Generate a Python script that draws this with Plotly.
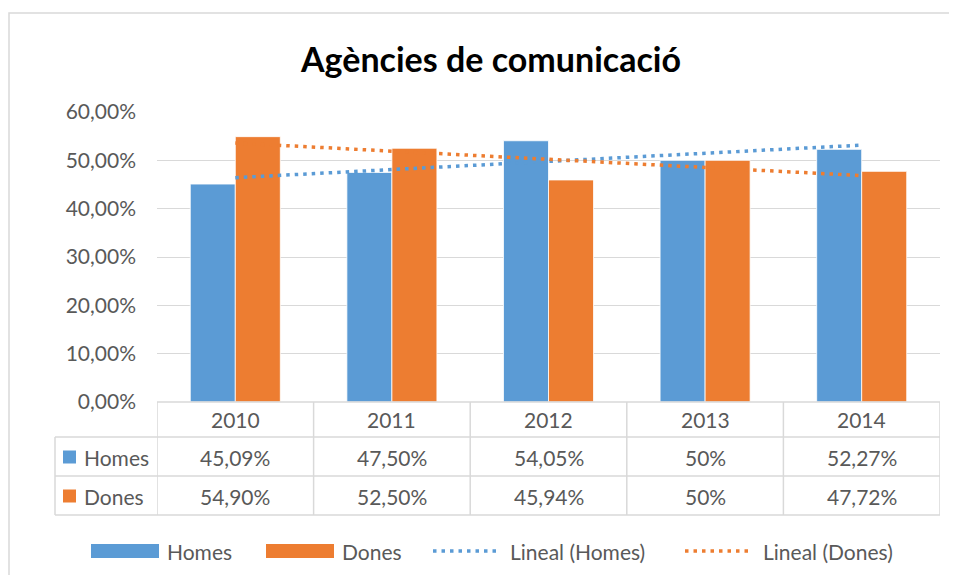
import numpy as np
import plotly.graph_objects as go

# ---- data ----
years = ["2010", "2011", "2012", "2013", "2014"]
homes = [0.4509, 0.4750, 0.5405, 0.50, 0.5227]
dones = [0.5490, 0.5250, 0.4594, 0.50, 0.4772]
homes_txt = ["45,09%", "47,50%", "54,05%", "50%", "52,27%"]
dones_txt = ["54,90%", "52,50%", "45,94%", "50%", "47,72%"]
series_names = ["Homes", "Dones"]
trend_names = ["Lineal (Homes)", "Lineal (Dones)"]
title = "Agències de comunicació"

BLUE = "#5B9BD5"
ORANGE = "#ED7D31"
GRID = "#D9D9D9"
TXT = "#595959"
FONT = "Lato, 'Open Sans', sans-serif"
FS = 21
DOT = "3.5px,5px"

OFF = 8  # page body margin
W, H = 957 - 2 * OFF, 583 - 2 * OFF
def px(x):
    return (x - OFF) / W
def py(y):
    return 1 - (y - OFF) / H

xi = np.arange(len(years))

def trend(vals):
    k = np.arange(1, len(vals) + 1)
    m, b = np.polyfit(k, vals, 1)
    return m * k + b

fig = go.Figure()
fig.add_trace(go.Bar(x=xi, y=homes, name=series_names[0], marker=dict(color=BLUE, line=dict(color="white", width=0.8)), showlegend=False))
fig.add_trace(go.Bar(x=xi, y=dones, name=series_names[1], marker=dict(color=ORANGE, line=dict(color="white", width=0.8)), showlegend=False))
fig.add_trace(go.Scatter(x=xi, y=trend(homes), mode="lines", name=trend_names[0], line=dict(color=BLUE, dash=DOT, width=3.5), showlegend=False))
fig.add_trace(go.Scatter(x=xi, y=trend(dones), mode="lines", name=trend_names[1], line=dict(color=ORANGE, dash=DOT, width=3.5), showlegend=False))

shapes = []
annotations = []

def label(x, y, text, xref="paper", xanchor="center", size=FS, color=TXT):
    annotations.append(dict(x=x, y=py(y), xref=xref, yref="paper", text=text, showarrow=False,
                            xanchor=xanchor, yanchor="middle",
                            font=dict(size=size, color=color, family=FONT)))

# chart outer border
shapes.append(dict(type="rect", xref="paper", yref="paper", x0=px(9), x1=px(990), y0=py(620), y1=py(13),
                   line=dict(color=GRID, width=1.5), layer="below"))

# data table lines
row_y = [402, 437, 476, 515]
cell_bounds = [-0.5 + k for k in range(len(years) + 1)]
shapes.append(dict(type="line", xref="x", yref="paper", x0=-0.5, x1=4.5, y0=py(402), y1=py(402), line=dict(color=GRID, width=1.5)))
for yy in row_y[1:]:
    shapes.append(dict(type="line", xref="paper", yref="paper", x0=px(55), x1=px(940), y0=py(yy), y1=py(yy), line=dict(color=GRID, width=1.5)))
for xb in cell_bounds:
    shapes.append(dict(type="line", xref="x", yref="paper", x0=xb, x1=xb, y0=py(402), y1=py(515), line=dict(color=GRID, width=1.5)))
shapes.append(dict(type="line", xref="paper", yref="paper", x0=px(55), x1=px(55), y0=py(437), y1=py(515), line=dict(color=GRID, width=1.5)))

# table text
for i, yr in enumerate(years):
    label(i, 419, yr, xref="x")
    label(i, 457, homes_txt[i], xref="x")
    label(i, 496, dones_txt[i], xref="x")
# table row keys
for name, col, yc in [(series_names[0], BLUE, 457), (series_names[1], ORANGE, 496)]:
    shapes.append(dict(type="rect", xref="paper", yref="paper", x0=px(63), x1=px(76), y0=py(yc + 6.5), y1=py(yc - 6.5),
                       fillcolor=col, line=dict(width=0)))
    label(px(82), yc, name, xanchor="left")

# custom legend
leg_y = 551
for name, col, x0, x1, tx in [(series_names[0], BLUE, 91, 159, 165), (series_names[1], ORANGE, 266, 334, 340)]:
    shapes.append(dict(type="rect", xref="paper", yref="paper", x0=px(x0), x1=px(x1), y0=py(leg_y + 7), y1=py(leg_y - 7),
                       fillcolor=col, line=dict(width=0)))
    label(px(tx), leg_y, name, xanchor="left")
for name, col, x0, x1, tx in [(trend_names[0], BLUE, 433, 497, 508), (trend_names[1], ORANGE, 685, 749, 761)]:
    shapes.append(dict(type="line", xref="paper", yref="paper", x0=px(x0), x1=px(x1), y0=py(leg_y), y1=py(leg_y),
                       line=dict(color=col, width=3.5, dash=DOT)))
    label(px(tx), leg_y, name, xanchor="left")

# title
label(px(490), 58, "<b>" + title + "</b>", size=34, color="black")

fig.update_layout(
    width=W, height=H,
    margin=dict(l=0, r=0, t=0, b=0, autoexpand=False),
    paper_bgcolor="white", plot_bgcolor="white",
    barmode="group", bargap=0.425, bargroupgap=0,
    separators=",.",
    xaxis=dict(domain=[px(157), px(940)], range=[-0.5, 4.5], showticklabels=False, showgrid=False, zeroline=False,
               fixedrange=True, automargin=False),
    yaxis=dict(domain=[py(402), py(112)], range=[0, 0.6], tickformat=".2%", dtick=0.1, tick0=0,
               showgrid=True, gridcolor=GRID, gridwidth=1.3, zeroline=False, ticks="", ticklen=0,
               tickfont=dict(size=FS, color=TXT, family=FONT), ticklabelstandoff=20, automargin=False),
    shapes=shapes, annotations=annotations,
    showlegend=False,
)

fig.write_html("out.html")
